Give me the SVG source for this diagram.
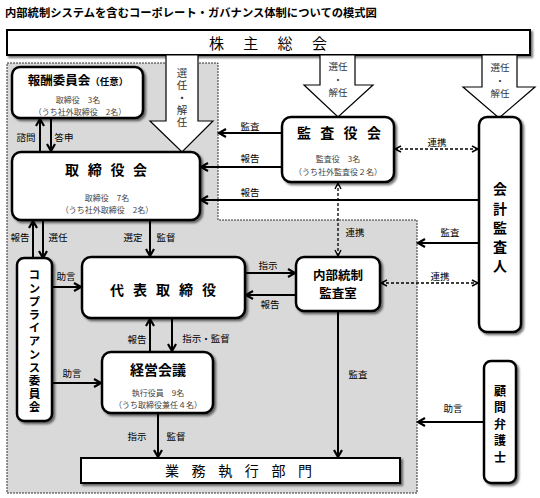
<svg xmlns="http://www.w3.org/2000/svg" width="540" height="498" viewBox="0 0 540 498">
<style>
text{font-family:"Noto Sans CJK JP","Noto Sans",sans-serif;fill:#000}
.title{font-size:11.3px;font-weight:bold}
.box{fill:#fff;stroke:#000;stroke-width:2.5}
.bar{fill:#fff;stroke:#000;stroke-width:2}
.big{font-size:14px;font-weight:bold}
.mid{font-size:12.5px;font-weight:bold}
.sub{font-size:8px;fill:#444}
.lbl{font-size:9.5px;fill:#333}
.c{stroke:#000;stroke-width:2;fill:none}
.d{stroke:#000;stroke-width:1.3;stroke-dasharray:3 2;fill:none}
.hollow{fill:#fff;stroke:#000;stroke-width:1.2}
.mid-a{text-anchor:middle}
.vert{writing-mode:vertical-rl;text-orientation:upright}
</style>
<defs>
<filter id="sh" x="-10%" y="-10%" width="130%" height="130%">
<feDropShadow dx="2" dy="2" stdDeviation="1.3" flood-color="#000" flood-opacity="0.55"/>
</filter>
<marker id="a" markerUnits="userSpaceOnUse" markerWidth="12" markerHeight="12" refX="9" refY="5" orient="auto-start-reverse" viewBox="0 0 12 10">
<path d="M2,1 L9,5 L2,9" fill="none" stroke="#000" stroke-width="2.2"/>
</marker>
<marker id="ad" markerUnits="userSpaceOnUse" markerWidth="10" markerHeight="10" refX="8" refY="4" orient="auto-start-reverse" viewBox="0 0 10 8">
<path d="M2,1 L8,4 L2,7" fill="none" stroke="#000" stroke-width="1.4"/>
</marker>
</defs>

<rect width="540" height="498" fill="#fff"/>
<text class="title" x="5" y="17">内部統制システムを含むコーポレート・ガバナンス体制についての模式図</text>

<!-- gray region -->
<path id="region" d="M7,63 L218,63 L218,220 L417,220 L417,493 L7,493 Z" fill="#d9d9d9" stroke="#333" stroke-width="1" stroke-dasharray="2 1"/>

<!-- shareholders meeting -->
<g id="shareholders">
<rect class="bar" x="7" y="30" width="523" height="25" filter="url(#sh)"/>
<text x="209" y="48.5" style="font-size:15px;letter-spacing:19.3px">株主総会</text>
</g>

<!-- big hollow arrows -->
<g id="bigarrows">
<polygon class="hollow" points="166,55 198,55 198,121 213,121 182,152 150,121 166,121"/>
<polygon class="hollow" points="320,55 355,55 355,85 373,85 338,117 304,85 320,85"/>
<polygon class="hollow" points="482,55 517,55 517,87 535,87 499,118 463,87 482,87"/>
<text class="lbl vert" x="182" y="68" style="font-size:10.5px;letter-spacing:1.75px">選任・解任</text>
<text class="lbl mid-a" x="338" y="69.5">選任<tspan x="338" dy="13">・</tspan><tspan x="338" dy="13">解任</tspan></text>
<text class="lbl mid-a" x="500" y="70.5">選任<tspan x="500" dy="13">・</tspan><tspan x="500" dy="13">解任</tspan></text>
</g>

<!-- connectors -->
<g id="connectors">
<line class="c" x1="40" y1="152" x2="40" y2="119" marker-end="url(#a)"/>
<line class="c" x1="51" y1="118" x2="51" y2="151" marker-end="url(#a)"/>
<line class="c" x1="282" y1="133" x2="219" y2="133" marker-end="url(#a)"/>
<line class="c" x1="282" y1="167" x2="201" y2="167" marker-end="url(#a)"/>
<line class="c" x1="479" y1="200" x2="201" y2="200" marker-end="url(#a)"/>
<line class="d" x1="395" y1="149" x2="478" y2="149" marker-start="url(#ad)" marker-end="url(#ad)"/>
<line class="d" x1="338" y1="183" x2="338" y2="256" marker-start="url(#ad)" marker-end="url(#ad)"/>
<line class="c" x1="479" y1="243" x2="418" y2="243" marker-end="url(#a)"/>
<line class="d" x1="381" y1="283" x2="478" y2="283" marker-start="url(#ad)" marker-end="url(#ad)"/>
<line class="c" x1="338" y1="311" x2="338" y2="457" marker-end="url(#a)"/>
<line class="c" x1="484" y1="422" x2="418" y2="422" marker-end="url(#a)"/>
<line class="c" x1="33" y1="259" x2="33" y2="221" marker-end="url(#a)"/>
<line class="c" x1="43" y1="220" x2="43" y2="258" marker-end="url(#a)"/>
<line class="c" x1="150" y1="220" x2="150" y2="256" marker-end="url(#a)"/>
<line class="c" x1="52" y1="287" x2="81" y2="287" marker-end="url(#a)"/>
<line class="c" x1="245" y1="273" x2="295" y2="273" marker-end="url(#a)"/>
<line class="c" x1="296" y1="295" x2="246" y2="295" marker-end="url(#a)"/>
<line class="c" x1="150" y1="352" x2="150" y2="319" marker-end="url(#a)"/>
<line class="c" x1="172" y1="318" x2="172" y2="351" marker-end="url(#a)"/>
<line class="c" x1="52" y1="383" x2="101" y2="383" marker-end="url(#a)"/>
<line class="c" x1="158" y1="413" x2="158" y2="457" marker-end="url(#a)"/>
<g class="lbl">
<text class="mid-a" x="26" y="141">諮問</text>
<text class="mid-a" x="64" y="141">答申</text>
<text class="mid-a" x="250" y="130">監査</text>
<text class="mid-a" x="250" y="162">報告</text>
<text class="mid-a" x="250" y="196">報告</text>
<text class="mid-a" x="437" y="146">連携</text>
<text class="mid-a" x="355" y="236">連携</text>
<text class="mid-a" x="450" y="236">監査</text>
<text class="mid-a" x="440" y="280">連携</text>
<text class="mid-a" x="358" y="378">監査</text>
<text class="mid-a" x="453" y="412">助言</text>
<text class="mid-a" x="20" y="241">報告</text>
<text class="mid-a" x="58" y="241">選任</text>
<text class="mid-a" x="133" y="241">選定</text>
<text class="mid-a" x="166" y="241">監督</text>
<text class="mid-a" x="66" y="280">助言</text>
<text class="mid-a" x="268" y="269">指示</text>
<text class="mid-a" x="270" y="308">報告</text>
<text class="mid-a" x="137" y="343">報告</text>
<text class="mid-a" x="206" y="342">指示・監督</text>
<text class="mid-a" x="72" y="377">助言</text>
<text class="mid-a" x="137" y="440">指示</text>
<text class="mid-a" x="176" y="440">監督</text>
</g>
</g>

<!-- nodes -->
<g id="compensation">
<rect class="box" x="12" y="67" width="131" height="51" rx="8" filter="url(#sh)"/>
<text x="78" y="84.5" class="mid-a"><tspan style="font-size:12.5px;font-weight:bold">報酬委員会</tspan><tspan style="font-size:9.5px;font-weight:bold">（任意）</tspan></text>
<text class="sub mid-a" x="78" y="103">取締役　3名<tspan x="80" dy="11.5">（うち社外取締役　2名）</tspan></text>
</g>

<g id="board">
<rect class="box" x="12" y="152" width="188" height="68" rx="9" filter="url(#sh)"/>
<text class="big" x="65" y="175" style="letter-spacing:8.7px">取締役会</text>
<text class="sub mid-a" x="107" y="201">取締役　7名<tspan x="107" dy="11.5">（うち社外取締役　2名）</tspan></text>
</g>

<g id="auditors">
<rect class="box" x="282" y="117" width="112" height="65" rx="9" filter="url(#sh)"/>
<text class="big" x="297" y="137.5" style="letter-spacing:9.3px">監査役会</text>
<text class="sub mid-a" x="338" y="162">監査役　3名<tspan x="338" dy="13">（うち社外監査役２名）</tspan></text>
</g>

<g id="accounting">
<rect class="box" x="479" y="117" width="42" height="215" rx="8" filter="url(#sh)"/>
<text class="vert" x="500" y="182" style="font-size:14px;font-weight:bold;letter-spacing:5.25px">会計監査人</text>
</g>

<g id="internal-audit">
<rect class="box" x="296" y="257" width="84" height="54" rx="8" filter="url(#sh)"/>
<text class="mid mid-a" x="338" y="279.5">内部統制<tspan x="338" dy="18.5">監査室</tspan></text>
</g>

<g id="representative">
<rect class="box" x="82" y="257" width="163" height="61" rx="9" filter="url(#sh)"/>
<text class="big" x="110" y="295" style="letter-spacing:9px">代表取締役</text>
</g>

<g id="management">
<rect class="box" x="102" y="352" width="111" height="61" rx="9" filter="url(#sh)"/>
<text class="big mid-a" x="158" y="375">経営会議</text>
<text class="sub mid-a" x="158" y="396">執行役員　9名<tspan x="158" dy="11.5">（うち取締役兼任４名）</tspan></text>
</g>

<g id="compliance">
<rect class="box" x="17" y="258" width="35" height="163" rx="7" filter="url(#sh)"/>
<text class="vert" x="34.5" y="269.3" style="font-size:11.5px;font-weight:bold;letter-spacing:1.7px">コンプライアンス委員会</text>
</g>

<g id="lawyer">
<rect class="box" x="484" y="361" width="32" height="122" rx="7" filter="url(#sh)"/>
<text class="vert" x="500" y="385" style="font-size:12px;font-weight:bold;letter-spacing:4.5px">顧問弁護士</text>
</g>

<g id="operations">
<rect class="bar" x="81" y="458" width="319" height="25" filter="url(#sh)"/>
<text x="165" y="476" style="font-size:14px;letter-spacing:12.6px">業務執行部門</text>
</g>
</svg>
